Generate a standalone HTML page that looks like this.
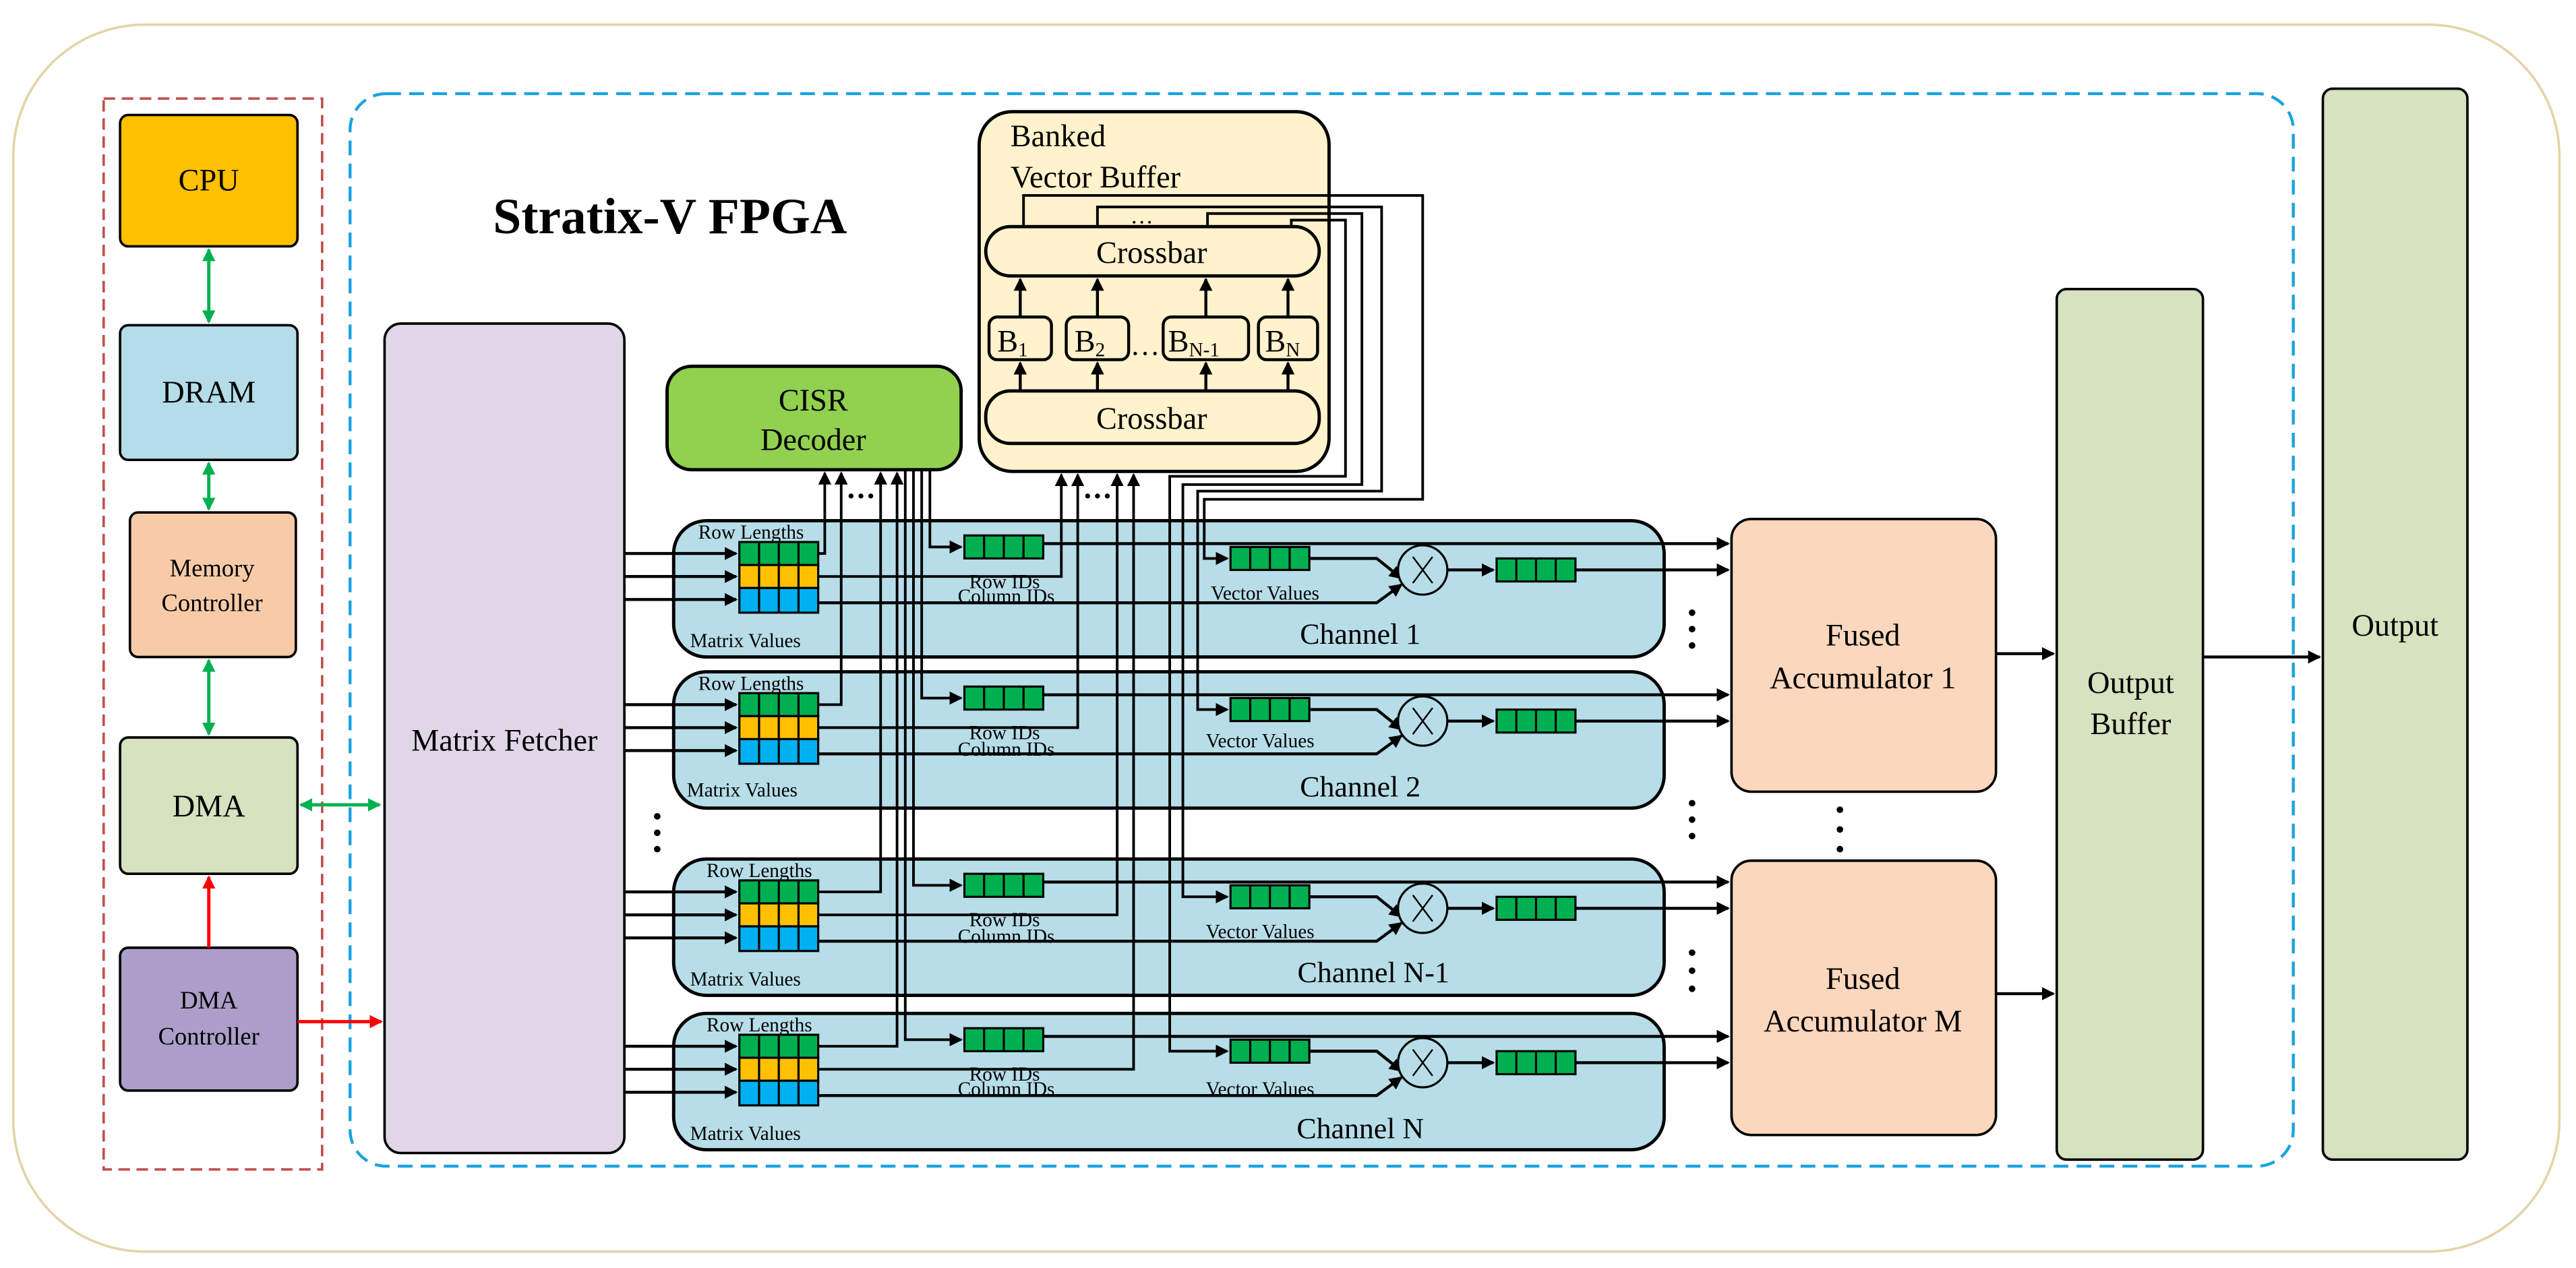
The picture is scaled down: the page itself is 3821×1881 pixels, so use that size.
<!DOCTYPE html>
<html><head><meta charset="utf-8"><style>
html,body{margin:0;padding:0;background:#fff}
svg{display:block}
svg text{font-family:"Liberation Serif","Times New Roman",serif;fill:#000}
</style></head><body>
<svg width="3821" height="1881" viewBox="0 0 1568 772" xmlns="http://www.w3.org/2000/svg" font-family="'Liberation Serif', 'Times New Roman', serif">
<defs>
<marker id="a" markerWidth="8" markerHeight="8" refX="7" refY="4" orient="auto" markerUnits="userSpaceOnUse"><path d="M0,0 L8,4 L0,8 z" fill="#000"/></marker>
<marker id="g" markerWidth="8" markerHeight="8" refX="7" refY="4" orient="auto" markerUnits="userSpaceOnUse"><path d="M0,0 L8,4 L0,8 z" fill="#00b050"/></marker>
<marker id="gs" markerWidth="8" markerHeight="8" refX="1" refY="4" orient="auto" markerUnits="userSpaceOnUse"><path d="M8,0 L0,4 L8,8 z" fill="#00b050"/></marker>
<marker id="r" markerWidth="8" markerHeight="8" refX="7" refY="4" orient="auto" markerUnits="userSpaceOnUse"><path d="M0,0 L8,4 L0,8 z" fill="#ff0000"/></marker>
</defs>
<rect x="8" y="15" width="1550" height="747" rx="80" fill="#fff" stroke="#e3d5a8" stroke-width="1.5"/>
<rect x="63" y="60" width="133" height="652" fill="none" stroke="#c0504d" stroke-width="1.5" stroke-dasharray="7,4"/>
<rect x="213" y="57" width="1183" height="653" rx="22" fill="none" stroke="#1aa3e0" stroke-width="1.8" stroke-dasharray="9,5"/>

<rect x="73" y="70" width="108" height="80" rx="5" fill="#ffc000" stroke="#000" stroke-width="1.5"/>
<text x="127" y="116" font-size="19" text-anchor="middle">CPU</text>
<rect x="73" y="198" width="108" height="82" rx="5" fill="#b4dde9" stroke="#000" stroke-width="1.5"/>
<text x="127" y="245" font-size="19" text-anchor="middle">DRAM</text>
<rect x="79" y="312" width="101" height="88" rx="5" fill="#f8cba8" stroke="#000" stroke-width="1.5"/>
<text x="129" y="351" font-size="15" text-anchor="middle">Memory</text>
<text x="129" y="372" font-size="15" text-anchor="middle">Controller</text>
<rect x="73" y="449" width="108" height="83" rx="5" fill="#d6e2c0" stroke="#000" stroke-width="1.5"/>
<text x="127" y="497" font-size="19" text-anchor="middle">DMA</text>
<rect x="73" y="577" width="108" height="87" rx="5" fill="#ac9ec8" stroke="#000" stroke-width="1.5"/>
<text x="127" y="614" font-size="15" text-anchor="middle">DMA</text>
<text x="127" y="636" font-size="15" text-anchor="middle">Controller</text>
<g stroke="#00b050" stroke-width="2" marker-end="url(#g)" marker-start="url(#gs)">
<line x1="127" y1="152" x2="127" y2="196"/><line x1="127" y1="282" x2="127" y2="310"/>
<line x1="127" y1="402" x2="127" y2="447"/><line x1="183" y1="490" x2="231" y2="490"/>
</g>
<g stroke="#ff0000" stroke-width="2" marker-end="url(#r)">
<line x1="127" y1="577" x2="127" y2="534"/><line x1="181" y1="622" x2="232" y2="622"/>
</g>

<text x="300" y="142" font-size="31" font-weight="bold">Stratix-V FPGA</text>
<rect x="234" y="197" width="146" height="505" rx="10" fill="#e0d6e8" stroke="#000" stroke-width="1.5"/>
<text x="307" y="457" font-size="19" text-anchor="middle">Matrix Fetcher</text>
<rect x="406" y="223" width="179" height="63" rx="15" fill="#92d050" stroke="#000" stroke-width="2"/>
<text x="495" y="250" font-size="19" text-anchor="middle">CISR</text>
<text x="495" y="274" font-size="19" text-anchor="middle">Decoder</text>

<rect x="596" y="68" width="213" height="219" rx="20" fill="#fff2cc" stroke="#000" stroke-width="2"/>
<text x="615" y="89" font-size="19">Banked</text>
<text x="615" y="114" font-size="19">Vector Buffer</text>
<rect x="600" y="138" width="203" height="30" rx="15" fill="#fff2cc" stroke="#000" stroke-width="2"/>
<text x="701" y="160" font-size="19" text-anchor="middle">Crossbar</text>
<rect x="600" y="238" width="203" height="32" rx="15" fill="#fff2cc" stroke="#000" stroke-width="2"/>
<text x="701" y="261" font-size="19" text-anchor="middle">Crossbar</text>
<g fill="#fff2cc" stroke="#000" stroke-width="1.8">
<rect x="602" y="193" width="38" height="26" rx="5"/><rect x="649" y="193" width="38" height="26" rx="5"/>
<rect x="708" y="193" width="52" height="26" rx="5"/><rect x="766" y="193" width="36" height="26" rx="5"/>
</g>
<text x="607" y="214" font-size="19">B<tspan font-size="12" dy="3">1</tspan></text>
<text x="654" y="214" font-size="19">B<tspan font-size="12" dy="3">2</tspan></text>
<text x="711" y="214" font-size="19">B<tspan font-size="12" dy="3">N-1</tspan></text>
<text x="770" y="214" font-size="19">B<tspan font-size="12" dy="3">N</tspan></text>
<text x="688" y="216" font-size="18">…</text>
<text x="688" y="136" font-size="14">…</text>
<g stroke="#000" stroke-width="1.8" marker-end="url(#a)">
<line x1="621" y1="238" x2="621" y2="221"/><line x1="668" y1="238" x2="668" y2="221"/>
<line x1="734" y1="238" x2="734" y2="221"/><line x1="784" y1="238" x2="784" y2="221"/>
<line x1="621" y1="193" x2="621" y2="170"/><line x1="668" y1="193" x2="668" y2="170"/>
<line x1="734" y1="193" x2="734" y2="170"/><line x1="784" y1="193" x2="784" y2="170"/>
</g>

<g fill="#b7dde8" stroke="#000" stroke-width="2">
<rect x="410" y="317" width="603" height="83" rx="20"/>
<rect x="410" y="409" width="603" height="83" rx="20"/>
<rect x="410" y="523" width="603" height="83" rx="20"/>
<rect x="410" y="617" width="603" height="83" rx="20"/>
</g>

<rect x="1054" y="316" width="161" height="166" rx="12" fill="#fad7bd" stroke="#000" stroke-width="1.5"/>
<text x="1134" y="393" font-size="19" text-anchor="middle">Fused</text>
<text x="1134" y="419" font-size="19" text-anchor="middle">Accumulator 1</text>
<rect x="1054" y="524" width="161" height="167" rx="12" fill="#fad7bd" stroke="#000" stroke-width="1.5"/>
<text x="1134" y="602" font-size="19" text-anchor="middle">Fused</text>
<text x="1134" y="628" font-size="19" text-anchor="middle">Accumulator M</text>
<rect x="1252" y="176" width="89" height="530" rx="6" fill="#d6e2c0" stroke="#000" stroke-width="1.5"/>
<text x="1297" y="422" font-size="19" text-anchor="middle">Output</text>
<text x="1297" y="447" font-size="19" text-anchor="middle">Buffer</text>
<rect x="1414" y="54" width="88" height="652" rx="6" fill="#d6e2c0" stroke="#000" stroke-width="1.5"/>
<text x="1458" y="387" font-size="19" text-anchor="middle">Output</text>
<g stroke="#000" stroke-width="1.8" marker-end="url(#a)">
<line x1="1215" y1="398" x2="1250" y2="398"/><line x1="1215" y1="605" x2="1250" y2="605"/>
<line x1="1341" y1="400" x2="1412" y2="400"/>
</g>

<g fill="none" stroke="#000" stroke-width="1.6" marker-end="url(#a)">
<polyline points="498,337 502,337 502,288"/>
<polyline points="498,429 512,429 512,288"/>
<polyline points="498,543 536,543 536,288"/>
<polyline points="498,637 546,637 546,288"/>
<polyline points="566,286 566,333 585,333"/>
<polyline points="561,286 561,425 585,425"/>
<polyline points="556,286 556,539 585,539"/>
<polyline points="551,286 551,633 585,633"/>
<polyline points="498,351 646,351 646,289"/>
<polyline points="498,443 656,443 656,289"/>
<polyline points="498,557 680,557 680,289"/>
<polyline points="498,651 690,651 690,289"/>
<polyline points="623,138 623,119 866,119 866,304 733,304 733,340 747,340"/>
<polyline points="668,138 668,126 841,126 841,299 729,299 729,432 747,432"/>
<polyline points="735,138 735,130 829,130 829,295 720,295 720,546 747,546"/>
<polyline points="786,138 786,134 819,134 819,290 712,290 712,640 747,640"/>
</g>

<g stroke="#000" stroke-width="1.8" fill="none" marker-end="url(#a)">
<line x1="380" y1="337" x2="448" y2="337"/><line x1="380" y1="351" x2="448" y2="351"/><line x1="380" y1="365" x2="448" y2="365"/>
<line x1="635" y1="331" x2="1052" y2="331"/>
<polyline points="797,340 838,340 853,352"/>
<polyline points="498,367 838,367 853,356"/>
<line x1="881" y1="347" x2="909" y2="347"/>
<line x1="959" y1="347" x2="1052" y2="347"/>
<line x1="380" y1="429" x2="448" y2="429"/><line x1="380" y1="443" x2="448" y2="443"/><line x1="380" y1="457" x2="448" y2="457"/>
<line x1="635" y1="423" x2="1052" y2="423"/>
<polyline points="797,432 838,432 853,444"/>
<polyline points="498,459 838,459 853,448"/>
<line x1="881" y1="439" x2="909" y2="439"/>
<line x1="959" y1="439" x2="1052" y2="439"/>
<line x1="380" y1="543" x2="448" y2="543"/><line x1="380" y1="557" x2="448" y2="557"/><line x1="380" y1="571" x2="448" y2="571"/>
<line x1="635" y1="537" x2="1052" y2="537"/>
<polyline points="797,546 838,546 853,558"/>
<polyline points="498,573 838,573 853,562"/>
<line x1="881" y1="553" x2="909" y2="553"/>
<line x1="959" y1="553" x2="1052" y2="553"/>
<line x1="380" y1="637" x2="448" y2="637"/><line x1="380" y1="651" x2="448" y2="651"/><line x1="380" y1="665" x2="448" y2="665"/>
<line x1="635" y1="631" x2="1052" y2="631"/>
<polyline points="797,640 838,640 853,652"/>
<polyline points="498,667 838,667 853,656"/>
<line x1="881" y1="647" x2="909" y2="647"/>
<line x1="959" y1="647" x2="1052" y2="647"/>
</g>

<g stroke="#000" stroke-width="1.3">
<g>
<rect x="450" y="330" width="48" height="14" fill="#00b050"/><rect x="450" y="344" width="48" height="14" fill="#ffc000"/><rect x="450" y="358" width="48" height="15" fill="#00b0f0"/>
<path d="M462,330V373M474,330V373M486,330V373"/>
<rect x="587" y="326" width="48" height="14" fill="#00b050"/><path d="M599,326V340M611,326V340M623,326V340"/>
<rect x="749" y="333" width="48" height="14" fill="#00b050"/><path d="M761,333V347M773,333V347M785,333V347"/>
<rect x="911" y="340" width="48" height="14" fill="#00b050"/><path d="M923,340V354M935,340V354M947,340V354"/>
<circle cx="866" cy="347" r="15" fill="#b7dde8"/><path d="M860,339L872,355M872,339L860,355" stroke-width="1"/>
</g>
<g transform="translate(0,92)">
<rect x="450" y="330" width="48" height="14" fill="#00b050"/><rect x="450" y="344" width="48" height="14" fill="#ffc000"/><rect x="450" y="358" width="48" height="15" fill="#00b0f0"/>
<path d="M462,330V373M474,330V373M486,330V373"/>
<rect x="587" y="326" width="48" height="14" fill="#00b050"/><path d="M599,326V340M611,326V340M623,326V340"/>
<rect x="749" y="333" width="48" height="14" fill="#00b050"/><path d="M761,333V347M773,333V347M785,333V347"/>
<rect x="911" y="340" width="48" height="14" fill="#00b050"/><path d="M923,340V354M935,340V354M947,340V354"/>
<circle cx="866" cy="347" r="15" fill="#b7dde8"/><path d="M860,339L872,355M872,339L860,355" stroke-width="1"/>
</g>
<g transform="translate(0,206)">
<rect x="450" y="330" width="48" height="14" fill="#00b050"/><rect x="450" y="344" width="48" height="14" fill="#ffc000"/><rect x="450" y="358" width="48" height="15" fill="#00b0f0"/>
<path d="M462,330V373M474,330V373M486,330V373"/>
<rect x="587" y="326" width="48" height="14" fill="#00b050"/><path d="M599,326V340M611,326V340M623,326V340"/>
<rect x="749" y="333" width="48" height="14" fill="#00b050"/><path d="M761,333V347M773,333V347M785,333V347"/>
<rect x="911" y="340" width="48" height="14" fill="#00b050"/><path d="M923,340V354M935,340V354M947,340V354"/>
<circle cx="866" cy="347" r="15" fill="#b7dde8"/><path d="M860,339L872,355M872,339L860,355" stroke-width="1"/>
</g>
<g transform="translate(0,300)">
<rect x="450" y="330" width="48" height="14" fill="#00b050"/><rect x="450" y="344" width="48" height="14" fill="#ffc000"/><rect x="450" y="358" width="48" height="15" fill="#00b0f0"/>
<path d="M462,330V373M474,330V373M486,330V373"/>
<rect x="587" y="326" width="48" height="14" fill="#00b050"/><path d="M599,326V340M611,326V340M623,326V340"/>
<rect x="749" y="333" width="48" height="14" fill="#00b050"/><path d="M761,333V347M773,333V347M785,333V347"/>
<rect x="911" y="340" width="48" height="14" fill="#00b050"/><path d="M923,340V354M935,340V354M947,340V354"/>
<circle cx="866" cy="347" r="15" fill="#b7dde8"/><path d="M860,339L872,355M872,339L860,355" stroke-width="1"/>
</g>
</g>

<g font-size="12">
<text x="425" y="328">Row Lengths</text><text x="420" y="394">Matrix Values</text>
<text x="590" y="358">Row IDs</text><text x="583" y="367">Column IDs</text><text x="737" y="365">Vector Values</text>
<text x="425" y="420">Row Lengths</text><text x="418" y="485">Matrix Values</text>
<text x="590" y="450">Row IDs</text><text x="583" y="460">Column IDs</text><text x="734" y="455">Vector Values</text>
<text x="430" y="534">Row Lengths</text><text x="420" y="600">Matrix Values</text>
<text x="590" y="564">Row IDs</text><text x="583" y="574">Column IDs</text><text x="734" y="571">Vector Values</text>
<text x="430" y="628">Row Lengths</text><text x="420" y="694">Matrix Values</text>
<text x="590" y="658">Row IDs</text><text x="583" y="667">Column IDs</text><text x="734" y="667">Vector Values</text>
</g>
<g font-size="18" text-anchor="middle">
<text x="828" y="392">Channel 1</text>
<text x="828" y="485">Channel 2</text>
<text x="836" y="598">Channel N-1</text>
<text x="828" y="693">Channel N</text>
</g>

<g fill="#000">
<circle cx="400" cy="497" r="2"/><circle cx="400" cy="507" r="2"/><circle cx="400" cy="517" r="2"/>
<circle cx="1030" cy="373" r="2"/><circle cx="1030" cy="383" r="2"/><circle cx="1030" cy="393" r="2"/>
<circle cx="1030" cy="489" r="2"/><circle cx="1030" cy="499" r="2"/><circle cx="1030" cy="509" r="2"/>
<circle cx="1030" cy="580" r="2"/><circle cx="1030" cy="591" r="2"/><circle cx="1030" cy="602" r="2"/>
<circle cx="1120" cy="493" r="2"/><circle cx="1120" cy="505" r="2"/><circle cx="1120" cy="517" r="2"/>
<circle cx="518" cy="302" r="1.5"/><circle cx="524" cy="302" r="1.5"/><circle cx="530" cy="302" r="1.5"/>
<circle cx="662" cy="302" r="1.5"/><circle cx="668" cy="302" r="1.5"/><circle cx="674" cy="302" r="1.5"/>
</g>
</svg>
</body></html>
